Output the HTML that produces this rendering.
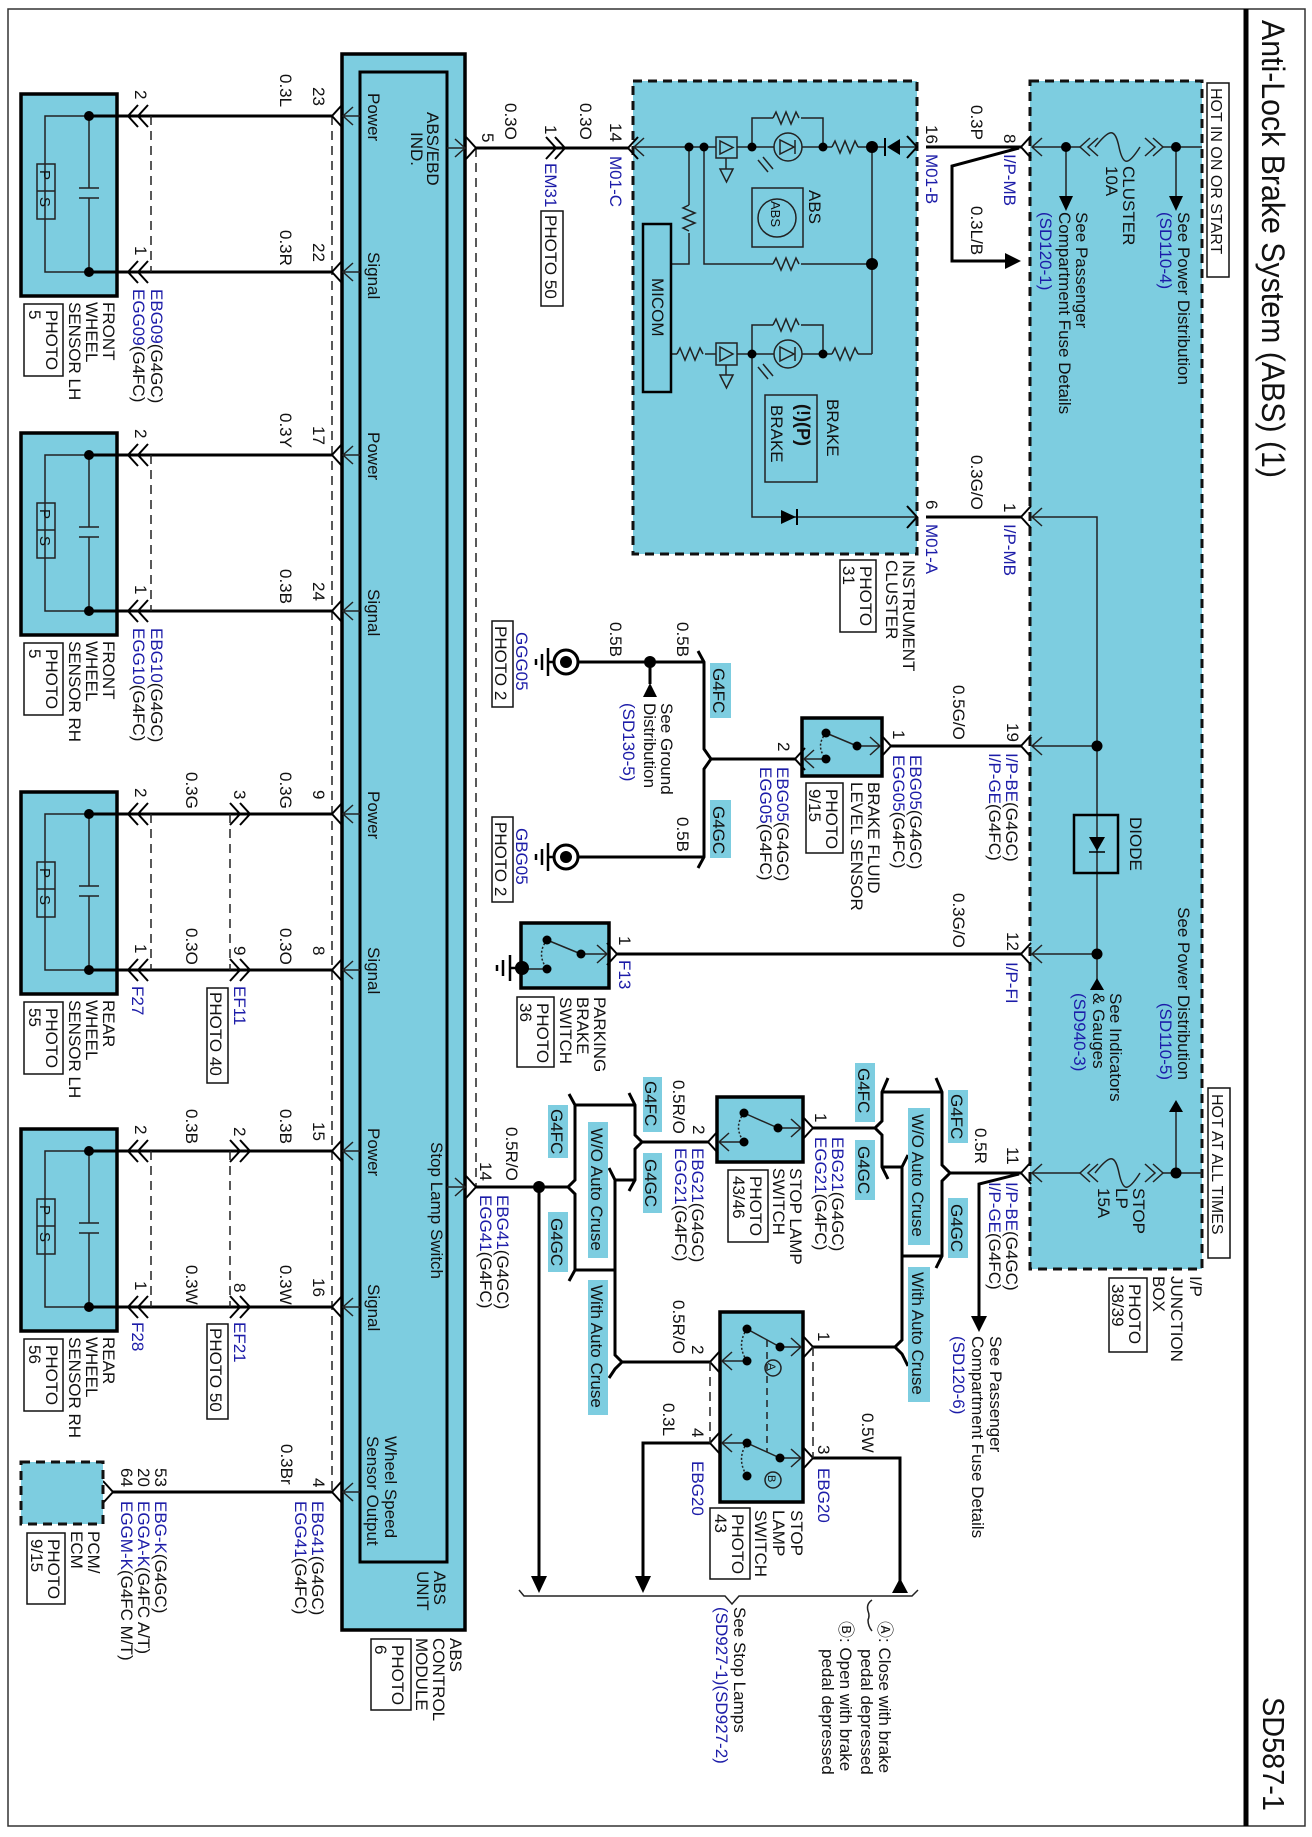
<!DOCTYPE html>
<html><head><meta charset="utf-8"><style>
html,body{margin:0;padding:0;background:#fff}
svg{display:block}
text{font-family:"Liberation Sans",Arial,sans-serif;font-size:17px;fill:#111}
.b{fill:#1c1ca8}
.w{stroke:#000;stroke-width:3;fill:none}
.t{stroke:#222;stroke-width:1.5;fill:none}
.c{stroke:#000;stroke-width:2;fill:none}
.box{fill:#7dcde0;stroke:#000;stroke-width:3.5}
.lb{fill:#7dcde0}
.dash{stroke:#222;stroke-width:1.5;stroke-dasharray:9,6;fill:none}
.dbox{fill:#7dcde0;stroke:#111;stroke-width:3;stroke-dasharray:9,6}
.pb{fill:#fff;stroke:#111;stroke-width:1.5}
</style></head><body>
<svg width="1312" height="1837" viewBox="0 0 1312 1837" xmlns="http://www.w3.org/2000/svg">
<defs>
<polyline id="cl" points="10,-11 0,0 10,11" class="c"/>
<polyline id="cr" points="-10,-11 0,0 -10,11" class="c"/>
<polyline id="al" points="10,-9 0,0 10,9" class="t"/>
<polyline id="ar" points="-10,-9 0,0 -10,9" class="t"/>
<path id="res" d="M0,0 l3,-6 l5,12 l5,-12 l5,12 l5,-12 l3,6" class="t"/>
<path id="resv" d="M0,0 l-6,3 l12,5 l-12,5 l12,5 l-12,5 l6,3" class="t"/>
</defs>
<rect x="8" y="9" width="1297" height="1817" fill="none" stroke="#333" stroke-width="1.5"/>
<line x1="1246" y1="9" x2="1246" y2="1826" stroke="#000" stroke-width="5"/>
<text transform="translate(1262,20) rotate(90)" style="font-size:32px" textLength="458" lengthAdjust="spacingAndGlyphs">Anti-Lock Brake System (ABS) (1)</text>
<text transform="translate(1263,1697) rotate(90)" style="font-size:31px" textLength="114" lengthAdjust="spacingAndGlyphs">SD587-1</text>

<!-- ABS module -->
<rect x="342" y="54" width="123" height="1576" class="box"/>
<rect x="360" y="72" width="87" height="1490" fill="none" stroke="#000" stroke-width="3"/>
<text transform="translate(427,112) rotate(90)">ABS/EBD</text>
<text transform="translate(411,132) rotate(90)">IND.</text>
<text transform="translate(368,93) rotate(90)">Power</text>
<text transform="translate(368,252) rotate(90)">Signal</text>
<text transform="translate(368,432) rotate(90)">Power</text>
<text transform="translate(368,589) rotate(90)">Signal</text>
<text transform="translate(368,791) rotate(90)">Power</text>
<text transform="translate(368,947) rotate(90)">Signal</text>
<text transform="translate(368,1128) rotate(90)">Power</text>
<text transform="translate(368,1284) rotate(90)">Signal</text>
<text transform="translate(431,1142) rotate(90)">Stop Lamp Switch</text>
<text transform="translate(385,1436) rotate(90)">Wheel Speed</text>
<text transform="translate(367,1436) rotate(90)">Sensor Output</text>
<text transform="translate(434,1571) rotate(90)">ABS</text>
<text transform="translate(417,1571) rotate(90)">UNIT</text>
<text transform="translate(450,1638) rotate(90)">ABS</text>
<text transform="translate(433,1638) rotate(90)">CONTROL</text>
<text transform="translate(416,1638) rotate(90)">MODULE</text>
<rect x="371" y="1639" width="40" height="71" class="pb"/>
<text transform="translate(392,1645) rotate(90)">PHOTO</text>
<text transform="translate(375,1645) rotate(90)">6</text>

<!-- dashed connector lines -->
<line x1="332" y1="116" x2="332" y2="1492" class="dash"/>
<line x1="476" y1="148" x2="476" y2="1187" class="dash"/>

<!-- ABS left connectors -->
<g>
<use href="#cl" x="332" y="116"/><use href="#al" x="343" y="116"/><line x1="343" y1="116" x2="360" y2="116" class="t"/>
<use href="#cl" x="332" y="272"/><use href="#al" x="343" y="272"/><line x1="343" y1="272" x2="360" y2="272" class="t"/>
<use href="#cl" x="332" y="455"/><use href="#al" x="343" y="455"/><line x1="343" y1="455" x2="360" y2="455" class="t"/>
<use href="#cl" x="332" y="611"/><use href="#al" x="343" y="611"/><line x1="343" y1="611" x2="360" y2="611" class="t"/>
<use href="#cl" x="332" y="814"/><use href="#al" x="343" y="814"/><line x1="343" y1="814" x2="360" y2="814" class="t"/>
<use href="#cl" x="332" y="970"/><use href="#al" x="343" y="970"/><line x1="343" y1="970" x2="360" y2="970" class="t"/>
<use href="#cl" x="332" y="1151"/><use href="#al" x="343" y="1151"/><line x1="343" y1="1151" x2="360" y2="1151" class="t"/>
<use href="#cl" x="332" y="1307"/><use href="#al" x="343" y="1307"/><line x1="343" y1="1307" x2="360" y2="1307" class="t"/>
<use href="#cl" x="332" y="1492"/><use href="#al" x="343" y="1492"/><line x1="343" y1="1492" x2="360" y2="1492" class="t"/>
<!-- right side -->
<line x1="447" y1="148" x2="465" y2="148" class="t"/><use href="#ar" x="465" y="148"/><use href="#cr" x="476" y="148"/>
<line x1="447" y1="1187" x2="465" y2="1187" class="t"/><use href="#ar" x="465" y="1187"/><use href="#cr" x="476" y="1187"/>
</g>

<!-- Sensors -->
<g id="sensors">
<!-- FLH -->
<rect x="21" y="94" width="96" height="202" class="box"/>
<polyline points="89,116 45,116 45,272 89,272" class="t"/>
<line x1="89" y1="116" x2="89" y2="188" class="t"/><line x1="89" y1="198" x2="89" y2="272" class="t"/>
<line x1="79" y1="188" x2="99" y2="188" class="t"/><line x1="79" y1="198" x2="99" y2="198" class="t"/>
<rect x="37" y="164" width="18" height="55" class="t" fill="#7dcde0"/><line x1="37" y1="191" x2="55" y2="191" class="t"/>
<text transform="translate(40,170) rotate(90)" style="font-size:15px">P</text><text transform="translate(40,197) rotate(90)" style="font-size:15px">S</text>
<circle cx="89" cy="116" r="5"/><circle cx="89" cy="272" r="5"/>
<!-- FRH -->
<rect x="21" y="433" width="96" height="202" class="box"/>
<polyline points="89,455 45,455 45,611 89,611" class="t"/>
<line x1="89" y1="455" x2="89" y2="527" class="t"/><line x1="89" y1="537" x2="89" y2="611" class="t"/>
<line x1="79" y1="527" x2="99" y2="527" class="t"/><line x1="79" y1="537" x2="99" y2="537" class="t"/>
<rect x="37" y="503" width="18" height="55" class="t" fill="#7dcde0"/><line x1="37" y1="530" x2="55" y2="530" class="t"/>
<text transform="translate(40,509) rotate(90)" style="font-size:15px">P</text><text transform="translate(40,536) rotate(90)" style="font-size:15px">S</text>
<circle cx="89" cy="455" r="5"/><circle cx="89" cy="611" r="5"/>
<!-- RLH -->
<rect x="21" y="792" width="96" height="202" class="box"/>
<polyline points="89,814 45,814 45,970 89,970" class="t"/>
<line x1="89" y1="814" x2="89" y2="886" class="t"/><line x1="89" y1="896" x2="89" y2="970" class="t"/>
<line x1="79" y1="886" x2="99" y2="886" class="t"/><line x1="79" y1="896" x2="99" y2="896" class="t"/>
<rect x="37" y="862" width="18" height="55" class="t" fill="#7dcde0"/><line x1="37" y1="889" x2="55" y2="889" class="t"/>
<text transform="translate(40,868) rotate(90)" style="font-size:15px">P</text><text transform="translate(40,895) rotate(90)" style="font-size:15px">S</text>
<circle cx="89" cy="814" r="5"/><circle cx="89" cy="970" r="5"/>
<!-- RRH -->
<rect x="21" y="1129" width="96" height="202" class="box"/>
<polyline points="89,1151 45,1151 45,1307 89,1307" class="t"/>
<line x1="89" y1="1151" x2="89" y2="1223" class="t"/><line x1="89" y1="1233" x2="89" y2="1307" class="t"/>
<line x1="79" y1="1223" x2="99" y2="1223" class="t"/><line x1="79" y1="1233" x2="99" y2="1233" class="t"/>
<rect x="37" y="1199" width="18" height="55" class="t" fill="#7dcde0"/><line x1="37" y1="1226" x2="55" y2="1226" class="t"/>
<text transform="translate(40,1205) rotate(90)" style="font-size:15px">P</text><text transform="translate(40,1232) rotate(90)" style="font-size:15px">S</text>
<circle cx="89" cy="1151" r="5"/><circle cx="89" cy="1307" r="5"/>
</g>

<!-- sensor wires -->
<g class="w">
<line x1="89" y1="116" x2="332" y2="116"/><line x1="89" y1="272" x2="332" y2="272"/>
<line x1="89" y1="455" x2="332" y2="455"/><line x1="89" y1="611" x2="332" y2="611"/>
<line x1="89" y1="814" x2="332" y2="814"/><line x1="89" y1="970" x2="332" y2="970"/>
<line x1="89" y1="1151" x2="332" y2="1151"/><line x1="89" y1="1307" x2="332" y2="1307"/>
<line x1="113" y1="1492" x2="332" y2="1492"/>
</g>
<g>
<use href="#cl" x="128" y="116"/><use href="#cl" x="138" y="116"/><use href="#cl" x="128" y="272"/><use href="#cl" x="138" y="272"/>
<use href="#cl" x="128" y="455"/><use href="#cl" x="138" y="455"/><use href="#cl" x="128" y="611"/><use href="#cl" x="138" y="611"/>
<use href="#cl" x="128" y="814"/><use href="#cl" x="138" y="814"/><use href="#cl" x="128" y="970"/><use href="#cl" x="138" y="970"/>
<use href="#cl" x="128" y="1151"/><use href="#cl" x="138" y="1151"/><use href="#cl" x="128" y="1307"/><use href="#cl" x="138" y="1307"/>
<use href="#cr" x="240" y="814"/><use href="#cr" x="250" y="814"/><use href="#cr" x="240" y="970"/><use href="#cr" x="250" y="970"/>
<use href="#cr" x="240" y="1151"/><use href="#cr" x="250" y="1151"/><use href="#cr" x="240" y="1307"/><use href="#cr" x="250" y="1307"/>
<use href="#cr" x="113" y="1492"/>
</g>
<g class="dash">
<line x1="151" y1="116" x2="151" y2="272"/><line x1="151" y1="455" x2="151" y2="611"/>
<line x1="151" y1="814" x2="151" y2="970"/><line x1="151" y1="1151" x2="151" y2="1307"/>
<line x1="230" y1="814" x2="230" y2="970"/><line x1="230" y1="1151" x2="230" y2="1307"/>
</g>
<!-- sensor labels -->
<text transform="translate(135,90) rotate(90)">2</text><text transform="translate(135,246) rotate(90)">1</text>
<text transform="translate(135,429) rotate(90)">2</text><text transform="translate(135,585) rotate(90)">1</text>
<text transform="translate(135,788) rotate(90)">2</text><text transform="translate(135,944) rotate(90)">1</text>
<text transform="translate(135,1125) rotate(90)">2</text><text transform="translate(135,1281) rotate(90)">1</text>
<text transform="translate(313,87) rotate(90)">23</text><text transform="translate(313,243) rotate(90)">22</text>
<text transform="translate(313,426) rotate(90)">17</text><text transform="translate(313,582) rotate(90)">24</text>
<text transform="translate(313,790) rotate(90)">9</text><text transform="translate(313,946) rotate(90)">8</text>
<text transform="translate(313,1122) rotate(90)">15</text><text transform="translate(313,1278) rotate(90)">16</text>
<text transform="translate(313,1478) rotate(90)">4</text>
<text transform="translate(280,74) rotate(90)">0.3L</text><text transform="translate(280,230) rotate(90)">0.3R</text>
<text transform="translate(280,413) rotate(90)">0.3Y</text><text transform="translate(280,569) rotate(90)">0.3B</text>
<text transform="translate(280,772) rotate(90)">0.3G</text><text transform="translate(280,928) rotate(90)">0.3O</text>
<text transform="translate(280,1109) rotate(90)">0.3B</text><text transform="translate(280,1265) rotate(90)">0.3W</text>
<text transform="translate(281,1444) rotate(90)">0.3Br</text>
<text transform="translate(186,772) rotate(90)">0.3G</text><text transform="translate(186,928) rotate(90)">0.3O</text>
<text transform="translate(186,1109) rotate(90)">0.3B</text><text transform="translate(186,1265) rotate(90)">0.3W</text>
<text transform="translate(234,790) rotate(90)">3</text><text transform="translate(234,946) rotate(90)">9</text>
<text transform="translate(234,1127) rotate(90)">2</text><text transform="translate(234,1283) rotate(90)">8</text>

<text transform="translate(151,289) rotate(90)"><tspan class="b">EBG09</tspan>(G4GC)</text>
<text transform="translate(133,289) rotate(90)"><tspan class="b">EGG09</tspan>(G4FC)</text>
<text transform="translate(151,628) rotate(90)"><tspan class="b">EBG10</tspan>(G4GC)</text>
<text transform="translate(133,628) rotate(90)"><tspan class="b">EGG10</tspan>(G4FC)</text>
<text class="b" transform="translate(132,986) rotate(90)">F27</text>
<text class="b" transform="translate(234,986) rotate(90)">EF11</text>
<rect x="207" y="988" width="21" height="95" class="pb"/><text transform="translate(210,992) rotate(90)">PHOTO 40</text>
<text class="b" transform="translate(132,1322) rotate(90)">F28</text>
<text class="b" transform="translate(234,1322) rotate(90)">EF21</text>
<rect x="207" y="1324" width="21" height="95" class="pb"/><text transform="translate(210,1328) rotate(90)">PHOTO 50</text>

<text transform="translate(103,302) rotate(90)">FRONT</text><text transform="translate(86,302) rotate(90)">WHEEL</text><text transform="translate(69,302) rotate(90)">SENSOR LH</text>
<rect x="24" y="304" width="39" height="72" class="pb"/><text transform="translate(46,310) rotate(90)">PHOTO</text><text transform="translate(29,310) rotate(90)">5</text>
<text transform="translate(103,641) rotate(90)">FRONT</text><text transform="translate(86,641) rotate(90)">WHEEL</text><text transform="translate(69,641) rotate(90)">SENSOR RH</text>
<rect x="24" y="643" width="39" height="72" class="pb"/><text transform="translate(46,649) rotate(90)">PHOTO</text><text transform="translate(29,649) rotate(90)">5</text>
<text transform="translate(103,1000) rotate(90)">REAR</text><text transform="translate(86,1000) rotate(90)">WHEEL</text><text transform="translate(69,1000) rotate(90)">SENSOR LH</text>
<rect x="24" y="1002" width="39" height="72" class="pb"/><text transform="translate(46,1008) rotate(90)">PHOTO</text><text transform="translate(29,1008) rotate(90)">55</text>
<text transform="translate(103,1337) rotate(90)">REAR</text><text transform="translate(86,1337) rotate(90)">WHEEL</text><text transform="translate(69,1337) rotate(90)">SENSOR RH</text>
<rect x="24" y="1339" width="39" height="72" class="pb"/><text transform="translate(46,1345) rotate(90)">PHOTO</text><text transform="translate(29,1345) rotate(90)">56</text>

<!-- PCM -->
<rect x="21" y="1462" width="82" height="62" class="dbox"/>
<text transform="translate(155,1468) rotate(90)">53</text><text transform="translate(138,1468) rotate(90)">20</text><text transform="translate(121,1468) rotate(90)">64</text>
<text transform="translate(155,1501) rotate(90)"><tspan class="b">EBG-K</tspan>(G4GC)</text>
<text transform="translate(138,1501) rotate(90)"><tspan class="b">EGGA-K</tspan>(G4FC A/T)</text>
<text transform="translate(121,1501) rotate(90)"><tspan class="b">EGGM-K</tspan>(G4FC M/T)</text>
<text transform="translate(88,1531) rotate(90)">PCM/</text><text transform="translate(71,1531) rotate(90)">ECM</text>
<rect x="27" y="1533" width="38" height="71" class="pb"/><text transform="translate(48,1539) rotate(90)">PHOTO</text><text transform="translate(31,1539) rotate(90)">9/15</text>
<text transform="translate(312,1501) rotate(90)"><tspan class="b">EBG41</tspan>(G4GC)</text>
<text transform="translate(295,1501) rotate(90)"><tspan class="b">EGG41</tspan>(G4FC)</text>

<!-- connector 5 to cluster -->
<line x1="476" y1="148" x2="628" y2="148" class="w"/>
<use href="#cr" x="556" y="148"/><use href="#cr" x="565" y="148"/>
<text transform="translate(482,133) rotate(90)">5</text>
<text transform="translate(505,103) rotate(90)">0.3O</text>
<text transform="translate(545,125) rotate(90)">1</text>
<text class="b" transform="translate(545,163) rotate(90)">EM31</text>
<rect x="541" y="211" width="22" height="95" class="pb"/><text transform="translate(545,215) rotate(90)">PHOTO 50</text>
<text transform="translate(580,103) rotate(90)">0.3O</text>
<text transform="translate(610,123) rotate(90)">14</text>
<text class="b" transform="translate(610,156) rotate(90)">M01-C</text>

<!-- Cluster -->
<rect x="633" y="81" width="284" height="473" class="dbox"/>
<use href="#cl" x="628" y="148"/>
<use href="#al" x="634" y="147"/>
<g class="t">
<line x1="634" y1="147" x2="716" y2="147"/>
<rect x="716" y="137" width="21" height="21" fill="none"/>
<polygon points="720,141 720,154 733,147.5"/>
<line x1="726" y1="158" x2="726" y2="169"/><polygon points="720,169 733,169 726.5,182"/>
<line x1="737" y1="147" x2="774" y2="147"/>
<circle cx="788" cy="147" r="14"/><polygon points="780,140 780,154 794,147"/><line x1="795" y1="140" x2="795" y2="154"/>
<line x1="802" y1="147" x2="832" y2="147"/>
<use href="#res" x="832" y="147"/><line x1="858" y1="147" x2="885" y2="147"/>
<line x1="900" y1="147" x2="917" y2="147"/>
<polyline points="752,147 752,118 773,118"/><use href="#res" x="773" y="118"/><polyline points="801,118 823,118 823,147"/>
<line x1="872" y1="147" x2="872" y2="354"/>
<polyline points="704,147 704,264 773,264"/><use href="#res" x="773" y="264"/><line x1="801" y1="264" x2="872" y2="264"/>
<line x1="689" y1="147" x2="689" y2="205"/><use href="#resv" x="689" y="205"/><polyline points="689,233 689,264 671,264"/>
<line x1="758" y1="160" x2="768" y2="172"/><line x1="763" y1="157" x2="773" y2="169"/>
<!-- lower -->
<line x1="671" y1="354" x2="677" y2="354"/><use href="#res" x="677" y="354"/><line x1="705" y1="354" x2="716" y2="354"/>
<rect x="716" y="343" width="21" height="22" fill="none"/>
<polygon points="720,347 720,361 733,354"/>
<line x1="726" y1="365" x2="726" y2="375"/><polygon points="720,375 733,375 726.5,388"/>
<line x1="737" y1="354" x2="774" y2="354"/>
<circle cx="788" cy="354" r="14"/><polygon points="780,347 780,361 794,354"/><line x1="795" y1="347" x2="795" y2="361"/>
<line x1="802" y1="354" x2="832" y2="354"/><use href="#res" x="832" y="354"/><line x1="858" y1="354" x2="872" y2="354"/>
<polyline points="752,354 752,325 773,325"/><use href="#res" x="773" y="325"/><polyline points="801,325 823,325 823,354"/>
<line x1="758" y1="367" x2="768" y2="379"/><line x1="763" y1="364" x2="773" y2="376"/>
<polyline points="752,354 752,517 917,517"/>
<rect x="752" y="188" width="51" height="59" fill="none"/><circle cx="777" cy="218" r="19"/>
<rect x="765" y="395" width="52" height="87" fill="none"/>
</g>
<polygon points="900,139 900,155 887,147"/><line x1="885" y1="138" x2="885" y2="156" stroke="#000" stroke-width="2"/>
<polygon points="781,510 781,524 796,517"/><line x1="797" y1="509" x2="797" y2="525" stroke="#000" stroke-width="2"/>
<circle cx="689" cy="147" r="4.5"/><circle cx="704" cy="147" r="4.5"/><circle cx="752" cy="147" r="4.5"/><circle cx="823" cy="147" r="4.5"/><circle cx="872" cy="147" r="6"/><circle cx="872" cy="264" r="6"/>
<circle cx="752" cy="354" r="4.5"/><circle cx="823" cy="354" r="4.5"/>
<rect x="643" y="224" width="28" height="168" fill="#7dcde0" stroke="#000" stroke-width="2.5"/>
<text transform="translate(652,278) rotate(90)">MICOM</text>
<text transform="translate(771,201) rotate(90)" style="font-size:13px">ABS</text>
<text transform="translate(809,190) rotate(90)">ABS</text>
<text transform="translate(797,404) rotate(90)" style="font-size:18px;font-weight:bold">(!)(P)</text>
<text transform="translate(771,405) rotate(90)">BRAKE</text>
<text transform="translate(827,399) rotate(90)">BRAKE</text>
<use href="#cr" x="917" y="147"/><use href="#cr" x="917" y="517"/>
<text transform="translate(903,560) rotate(90)">INSTRUMENT</text>
<text transform="translate(886,560) rotate(90)">CLUSTER</text>
<rect x="840" y="560" width="36" height="72" class="pb"/><text transform="translate(860,566) rotate(90)">PHOTO</text><text transform="translate(843,566) rotate(90)">31</text>

<!-- cluster to JB -->
<line x1="926" y1="147" x2="1021" y2="147" class="w"/>
<line x1="926" y1="517" x2="1021" y2="517" class="w"/>
<polyline points="1019,148 952,166 952,261 1006,261" class="w"/>
<polygon points="1005,253 1005,269 1021,261"/>
<text transform="translate(926,125) rotate(90)">16</text><text class="b" transform="translate(926,154) rotate(90)">M01-B</text>
<text transform="translate(971,105) rotate(90)">0.3P</text><text transform="translate(971,206) rotate(90)">0.3L/B</text>
<text transform="translate(1004,134) rotate(90)">8</text><text class="b" transform="translate(1004,154) rotate(90)">I/P-MB</text>
<text transform="translate(926,500) rotate(90)">6</text><text class="b" transform="translate(926,524) rotate(90)">M01-A</text>
<text transform="translate(971,455) rotate(90)">0.3G/O</text>
<text transform="translate(1004,503) rotate(90)">1</text><text class="b" transform="translate(1004,524) rotate(90)">I/P-MB</text>

<!-- Junction box -->
<rect x="1030" y="81" width="172" height="1188" class="dbox"/>
<use href="#cl" x="1021" y="147"/><use href="#cl" x="1021" y="517"/><use href="#cl" x="1021" y="746"/><use href="#cl" x="1021" y="954"/><use href="#cl" x="1021" y="1173"/>
<g class="t">
<use href="#al" x="1032" y="147"/><use href="#al" x="1032" y="517"/><use href="#al" x="1032" y="746"/><use href="#al" x="1032" y="954"/><use href="#al" x="1032" y="1173"/>
<line x1="1032" y1="147" x2="1080" y2="147"/><line x1="1163" y1="147" x2="1202" y2="147"/>
<use href="#al" x="1080" y="147"/><use href="#al" x="1088" y="147"/>
<path d="M1095,147 C1110,128 1115,128 1119,147 C1123,166 1128,166 1140,147"/>
<use href="#ar" x="1155" y="147"/><use href="#ar" x="1163" y="147"/>
<line x1="1066" y1="147" x2="1066" y2="196"/><line x1="1176" y1="147" x2="1176" y2="196"/>
<polyline points="1032,517 1097,517 1097,954"/><line x1="1032" y1="746" x2="1097" y2="746"/><line x1="1032" y1="954" x2="1097" y2="954"/>
<line x1="1097" y1="954" x2="1097" y2="980"/>
<rect x="1074" y="815" width="44" height="58" stroke="#000" stroke-width="2.5" fill="none"/>
<line x1="1032" y1="1173" x2="1080" y2="1173"/><line x1="1163" y1="1173" x2="1202" y2="1173"/>
<use href="#al" x="1080" y="1173"/><use href="#al" x="1088" y="1173"/>
<path d="M1095,1173 C1110,1154 1115,1154 1119,1173 C1123,1192 1128,1192 1140,1173"/>
<use href="#ar" x="1155" y="1173"/><use href="#ar" x="1163" y="1173"/>
<line x1="1176" y1="1173" x2="1176" y2="1112"/>
</g>
<polygon points="1059,196 1073,196 1066,211"/><polygon points="1169,196 1183,196 1176,211"/>
<polygon points="1089,837 1105,837 1097,851"/><line x1="1089" y1="852" x2="1105" y2="852" stroke="#000" stroke-width="1.5"/>
<polygon points="1090,990 1104,990 1097,978"/>
<polygon points="1169,1112 1183,1112 1176,1100"/>
<circle cx="1066" cy="147" r="5"/><circle cx="1176" cy="147" r="5"/><circle cx="1097" cy="746" r="5.5"/><circle cx="1097" cy="954" r="5.5"/><circle cx="1176" cy="1173" r="5.5"/>
<rect x="1207" y="83" width="22" height="194" fill="#fff" stroke="#111" stroke-width="1.5"/>
<text transform="translate(1211,88) rotate(90)" style="font-size:16px">HOT IN ON OR START</text>
<rect x="1208" y="1088" width="22" height="170" fill="#fff" stroke="#111" stroke-width="1.5"/>
<text transform="translate(1212,1094) rotate(90)" style="font-size:16px">HOT AT ALL TIMES</text>
<text transform="translate(1123,166) rotate(90)">CLUSTER</text><text transform="translate(1106,166) rotate(90)">10A</text>
<text transform="translate(1178,212) rotate(90)">See Power Distribution</text><text class="b" transform="translate(1160,212) rotate(90)">(SD110-4)</text>
<text transform="translate(1076,212) rotate(90)">See Passenger</text><text transform="translate(1059,212) rotate(90)">Compartment Fuse Details</text><text class="b" transform="translate(1040,212) rotate(90)">(SD120-1)</text>
<text transform="translate(1130,817) rotate(90)">DIODE</text>
<text transform="translate(1110,993) rotate(90)">See Indicators</text><text transform="translate(1093,993) rotate(90)">&amp; Gauges</text><text class="b" transform="translate(1074,993) rotate(90)">(SD940-3)</text>
<text transform="translate(1178,1080) rotate(90)" text-anchor="end">See Power Distribution</text><text class="b" transform="translate(1160,1080) rotate(90)" text-anchor="end">(SD110-5)</text>
<text transform="translate(1133,1188) rotate(90)">STOP</text><text transform="translate(1116,1188) rotate(90)">LP</text><text transform="translate(1098,1188) rotate(90)">15A</text>
<text transform="translate(1190,1276) rotate(90)">I/P</text><text transform="translate(1171,1276) rotate(90)">JUNCTION</text><text transform="translate(1153,1276) rotate(90)">BOX</text>
<rect x="1109" y="1278" width="38" height="74" class="pb"/><text transform="translate(1129,1284) rotate(90)">PHOTO</text><text transform="translate(1112,1284) rotate(90)">38/39</text>

<!-- row 19 brake fluid -->
<line x1="891" y1="746" x2="1021" y2="746" class="w"/>
<rect x="802" y="718" width="80" height="58" class="box"/>
<use href="#cr" x="891" y="746"/>
<g class="t"><line x1="857" y1="746" x2="880" y2="746"/><use href="#ar" x="880" y="746"/>
<line x1="826" y1="733" x2="857" y2="746"/><path d="M826,733 Q815,746 826,759" stroke-dasharray="2,2"/>
<line x1="826" y1="759" x2="804" y2="759"/><use href="#al" x="804" y="759"/></g>
<circle cx="826" cy="733" r="4.5"/><circle cx="857" cy="746" r="4.5"/><circle cx="826" cy="759" r="4.5"/>
<use href="#cl" x="795" y="759"/>
<text transform="translate(1007,723) rotate(90)">19</text>
<text transform="translate(1006,753) rotate(90)"><tspan class="b">I/P-BE</tspan>(G4GC)</text>
<text transform="translate(989,753) rotate(90)"><tspan class="b">I/P-GE</tspan>(G4FC)</text>
<text transform="translate(953,685) rotate(90)">0.5G/O</text>
<text transform="translate(893,730) rotate(90)">1</text>
<text transform="translate(910,755) rotate(90)"><tspan class="b">EBG05</tspan>(G4GC)</text>
<text transform="translate(893,755) rotate(90)"><tspan class="b">EGG05</tspan>(G4FC)</text>
<text transform="translate(778,742) rotate(90)">2</text>
<text transform="translate(777,767) rotate(90)"><tspan class="b">EBG05</tspan>(G4GC)</text>
<text transform="translate(760,767) rotate(90)"><tspan class="b">EGG05</tspan>(G4FC)</text>
<text transform="translate(868,782) rotate(90)">BRAKE FLUID</text><text transform="translate(851,782) rotate(90)">LEVEL SENSOR</text>
<rect x="806" y="783" width="37" height="70" class="pb"/><text transform="translate(826,789) rotate(90)">PHOTO</text><text transform="translate(809,789) rotate(90)">9/15</text>

<!-- grounds -->
<line x1="711" y1="759" x2="795" y2="759" class="w"/>
<polyline points="698,651 704,662 704,749 711,759 704,769 704,857 698,868" class="w"/>
<line x1="578" y1="662" x2="704" y2="662" class="w"/><line x1="578" y1="857" x2="704" y2="857" class="w"/>
<circle cx="566" cy="662" r="12" fill="#fff" stroke="#000" stroke-width="3"/><circle cx="566" cy="662" r="6"/>
<circle cx="566" cy="857" r="12" fill="#fff" stroke="#000" stroke-width="3"/><circle cx="566" cy="857" r="6"/>
<g stroke="#000" stroke-width="2.5"><line x1="554" y1="662" x2="548" y2="662"/><line x1="548" y1="648" x2="548" y2="676"/><line x1="542" y1="654" x2="542" y2="670"/><line x1="536" y1="659" x2="536" y2="665"/>
<line x1="554" y1="857" x2="548" y2="857"/><line x1="548" y1="843" x2="548" y2="871"/><line x1="542" y1="849" x2="542" y2="865"/><line x1="536" y1="854" x2="536" y2="860"/></g>
<line x1="650" y1="662" x2="650" y2="684" class="w"/><polygon points="643,697 657,697 650,683"/><circle cx="650" cy="662" r="6"/>
<rect x="710" y="663" width="21" height="55" class="lb"/><text transform="translate(713,668) rotate(90)">G4FC</text>
<rect x="710" y="800" width="21" height="58" class="lb"/><text transform="translate(713,806) rotate(90)">G4GC</text>
<text transform="translate(677,622) rotate(90)">0.5B</text><text transform="translate(610,622) rotate(90)">0.5B</text><text transform="translate(677,817) rotate(90)">0.5B</text>
<text class="b" transform="translate(516,632) rotate(90)">GGG05</text>
<rect x="492" y="621" width="21" height="86" class="pb"/><text transform="translate(495,626) rotate(90)">PHOTO 2</text>
<text class="b" transform="translate(516,828) rotate(90)">GBG05</text>
<rect x="492" y="817" width="21" height="85" class="pb"/><text transform="translate(495,822) rotate(90)">PHOTO 2</text>
<text transform="translate(661,703) rotate(90)">See Ground</text><text transform="translate(644,703) rotate(90)">Distribution</text><text class="b" transform="translate(623,703) rotate(90)">(SD130-5)</text>

<!-- parking brake -->
<line x1="617" y1="954" x2="1021" y2="954" class="w"/>
<rect x="521" y="923" width="88" height="65" class="box"/>
<use href="#cr" x="617" y="954"/>
<g class="t"><line x1="581" y1="954" x2="607" y2="954"/><use href="#ar" x="607" y="954"/>
<line x1="547" y1="940" x2="581" y2="954"/><path d="M547,940 Q536,954 547,969" stroke-dasharray="2,2"/><line x1="547" y1="969" x2="522" y2="969"/></g>
<circle cx="547" cy="940" r="4.5"/><circle cx="581" cy="954" r="4.5"/><circle cx="547" cy="969" r="4.5"/><circle cx="522" cy="968" r="7"/>
<g stroke="#000" stroke-width="2.5"><line x1="510" y1="955" x2="510" y2="981"/><line x1="503" y1="960" x2="503" y2="976"/><line x1="497" y1="965" x2="497" y2="971"/><line x1="510" y1="968" x2="522" y2="968"/></g>
<text transform="translate(1007,932) rotate(90)">12</text><text class="b" transform="translate(1006,962) rotate(90)">I/P-FI</text>
<text transform="translate(953,893) rotate(90)">0.3G/O</text>
<text transform="translate(619,936) rotate(90)">1</text><text class="b" transform="translate(619,960) rotate(90)">F13</text>
<text transform="translate(594,997) rotate(90)">PARKING</text><text transform="translate(577,997) rotate(90)">BRAKE</text><text transform="translate(560,997) rotate(90)">SWITCH</text>
<rect x="517" y="997" width="37" height="70" class="pb"/><text transform="translate(537,1003) rotate(90)">PHOTO</text><text transform="translate(520,1003) rotate(90)">36</text>

<!-- stop lamp circuits -->
<g class="w">
<line x1="476" y1="1187" x2="568" y2="1187"/>
<polyline points="569,1094 575,1105 575,1180 568,1187 575,1194 575,1270 569,1281"/>
<line x1="575" y1="1105" x2="635" y2="1105"/><line x1="575" y1="1270" x2="615" y2="1270"/>
<polyline points="629,1093 635,1105 635,1135 642,1142 635,1149 635,1180 629,1191"/>
<line x1="642" y1="1142" x2="708" y2="1142"/>
<line x1="615" y1="1180" x2="635" y2="1180"/>
<polyline points="609,1168 615,1180 615,1355 622,1362 615,1369 609,1378"/>
<line x1="622" y1="1362" x2="710" y2="1362"/>
<line x1="813" y1="1128" x2="875" y2="1128"/>
<polyline points="888,1078 882,1092 882,1121 875,1128 882,1135 882,1167 888,1179"/>
<line x1="882" y1="1092" x2="942" y2="1092"/><line x1="882" y1="1167" x2="902" y2="1167"/>
<polyline points="908,1155 902,1167 902,1340 895,1347 902,1354 908,1366"/>
<line x1="813" y1="1347" x2="895" y2="1347"/>
<line x1="902" y1="1256" x2="942" y2="1256"/>
<polyline points="936,1078 942,1092 942,1165 950,1173 942,1181 942,1256 936,1268"/>
<line x1="950" y1="1173" x2="1021" y2="1173"/>
<polyline points="1019,1174 979,1184 979,1316"/>
<line x1="539" y1="1187" x2="539" y2="1576"/>
<polyline points="710,1443 643,1443 643,1576"/>
<polyline points="813,1458 900,1458 900,1582"/>
</g>
<circle cx="539" cy="1187" r="6"/>
<polygon points="971,1316 987,1316 979,1332"/>
<polygon points="531,1576 547,1576 539,1593"/>
<polygon points="635,1576 651,1576 643,1593"/>
<polygon points="892,1593 908,1593 900,1578"/>
<polyline points="519,1590 524,1596 725,1596 732,1604 739,1596 912,1596 918,1590" class="t"/>
<path d="M872,1600 Q866,1604 868,1611 Q870,1616 868,1620 Q868,1626 872,1631" class="t"/>

<!-- upper stop switch -->
<rect x="717" y="1097" width="86" height="65" class="box"/>
<use href="#cl" x="708" y="1142"/><use href="#cr" x="813" y="1128"/>
<g class="t"><line x1="778" y1="1128" x2="801" y2="1128"/><use href="#ar" x="801" y="1128"/>
<line x1="744" y1="1113" x2="778" y2="1128"/><path d="M744,1113 Q733,1127 744,1142" stroke-dasharray="2,2"/>
<line x1="744" y1="1142" x2="719" y2="1142"/><use href="#al" x="719" y="1142"/></g>
<circle cx="744" cy="1113" r="4.5"/><circle cx="778" cy="1128" r="4.5"/><circle cx="744" cy="1142" r="4.5"/>
<text transform="translate(693,1125) rotate(90)">2</text>
<text transform="translate(673,1080) rotate(90)">0.5R/O</text>
<text transform="translate(692,1148) rotate(90)"><tspan class="b">EBG21</tspan>(G4GC)</text>
<text transform="translate(675,1148) rotate(90)"><tspan class="b">EGG21</tspan>(G4FC)</text>
<text transform="translate(815,1113) rotate(90)">1</text>
<text transform="translate(832,1137) rotate(90)"><tspan class="b">EBG21</tspan>(G4GC)</text>
<text transform="translate(815,1137) rotate(90)"><tspan class="b">EGG21</tspan>(G4FC)</text>
<text transform="translate(790,1168) rotate(90)">STOP LAMP</text><text transform="translate(773,1168) rotate(90)">SWITCH</text>
<rect x="728" y="1170" width="40" height="72" class="pb"/><text transform="translate(750,1176) rotate(90)">PHOTO</text><text transform="translate(733,1176) rotate(90)">43/46</text>

<!-- lower stop switch -->
<rect x="720" y="1312" width="83" height="190" class="box"/>
<use href="#cl" x="710" y="1362"/><use href="#cl" x="710" y="1443"/><use href="#cr" x="813" y="1347"/><use href="#cr" x="813" y="1458"/>
<line x1="710" y1="1362" x2="710" y2="1443" class="dash"/><line x1="813" y1="1347" x2="813" y2="1458" class="dash"/>
<g class="t"><line x1="780" y1="1347" x2="801" y2="1347"/><use href="#ar" x="801" y="1347"/>
<line x1="747" y1="1329" x2="780" y2="1347"/><path d="M747,1329 Q736,1345 747,1361" stroke-dasharray="2,2"/>
<line x1="747" y1="1361" x2="722" y2="1361"/><use href="#al" x="722" y="1361"/>
<line x1="780" y1="1458" x2="801" y2="1458"/><use href="#ar" x="801" y="1458"/>
<line x1="747" y1="1443" x2="780" y2="1458"/><path d="M747,1443 Q736,1459 747,1476" stroke-dasharray="2,2"/>
<line x1="747" y1="1443" x2="722" y2="1443"/><use href="#al" x="722" y="1443"/>
<line x1="767" y1="1340" x2="767" y2="1452" stroke-dasharray="7,5"/>
<circle cx="773" cy="1368" r="8"/><circle cx="773" cy="1480" r="8"/></g>
<circle cx="747" cy="1329" r="4.5"/><circle cx="780" cy="1347" r="4.5"/><circle cx="747" cy="1361" r="4.5"/>
<circle cx="747" cy="1443" r="4.5"/><circle cx="780" cy="1458" r="4.5"/><circle cx="747" cy="1476" r="4.5"/>
<text transform="translate(768,1363) rotate(90)" style="font-size:11px">A</text><text transform="translate(768,1475) rotate(90)" style="font-size:11px">B</text>
<text transform="translate(692,1345) rotate(90)">2</text><text transform="translate(673,1300) rotate(90)">0.5R/O</text>
<text transform="translate(818,1332) rotate(90)">1</text>
<text transform="translate(692,1428) rotate(90)">4</text><text transform="translate(663,1403) rotate(90)">0.3L</text>
<text class="b" transform="translate(692,1461) rotate(90)">EBG20</text>
<text transform="translate(818,1445) rotate(90)">3</text><text transform="translate(862,1413) rotate(90)">0.5W</text>
<text class="b" transform="translate(818,1468) rotate(90)">EBG20</text>
<text transform="translate(791,1510) rotate(90)">STOP</text><text transform="translate(773,1510) rotate(90)">LAMP</text><text transform="translate(755,1510) rotate(90)">SWITCH</text>
<rect x="710" y="1508" width="40" height="71" class="pb"/><text transform="translate(732,1514) rotate(90)">PHOTO</text><text transform="translate(715,1514) rotate(90)">43</text>

<!-- stop labels -->
<text transform="translate(480,1162) rotate(90)">14</text><text transform="translate(506,1127) rotate(90)">0.5R/O</text>
<text transform="translate(497,1195) rotate(90)"><tspan class="b">EBG41</tspan>(G4GC)</text>
<text transform="translate(480,1195) rotate(90)"><tspan class="b">EGG41</tspan>(G4FC)</text>
<text transform="translate(1007,1147) rotate(90)">11</text><text transform="translate(975,1128) rotate(90)">0.5R</text>
<text transform="translate(1006,1182) rotate(90)"><tspan class="b">I/P-BE</tspan>(G4GC)</text>
<text transform="translate(989,1182) rotate(90)"><tspan class="b">I/P-GE</tspan>(G4FC)</text>
<text transform="translate(990,1336) rotate(90)">See Passenger</text><text transform="translate(972,1336) rotate(90)">Compartment Fuse Details</text><text class="b" transform="translate(953,1336) rotate(90)">(SD120-6)</text>

<rect x="548" y="1105" width="20" height="53" class="lb"/><text transform="translate(551,1109) rotate(90)">G4FC</text>
<rect x="548" y="1212" width="20" height="60" class="lb"/><text transform="translate(551,1218) rotate(90)">G4GC</text>
<rect x="588" y="1122" width="20" height="136" class="lb"/><text transform="translate(591,1128) rotate(90)">W/O Auto Cruse</text>
<rect x="588" y="1280" width="20" height="135" class="lb"/><text transform="translate(591,1285) rotate(90)">With Auto Cruse</text>
<rect x="643" y="1077" width="19" height="55" class="lb"/><text transform="translate(645,1081) rotate(90)">G4FC</text>
<rect x="643" y="1153" width="19" height="60" class="lb"/><text transform="translate(645,1159) rotate(90)">G4GC</text>
<rect x="855" y="1063" width="20" height="59" class="lb"/><text transform="translate(858,1068) rotate(90)">G4FC</text>
<rect x="855" y="1140" width="20" height="60" class="lb"/><text transform="translate(858,1146) rotate(90)">G4GC</text>
<rect x="908" y="1108" width="22" height="137" class="lb"/><text transform="translate(912,1114) rotate(90)">W/O Auto Cruse</text>
<rect x="908" y="1267" width="22" height="135" class="lb"/><text transform="translate(912,1272) rotate(90)">With Auto Cruse</text>
<rect x="948" y="1090" width="20" height="53" class="lb"/><text transform="translate(951,1094) rotate(90)">G4FC</text>
<rect x="948" y="1198" width="20" height="60" class="lb"/><text transform="translate(951,1204) rotate(90)">G4GC</text>

<!-- legend -->
<text transform="translate(734,1607) rotate(90)">See Stop Lamps</text>
<text class="b" transform="translate(716,1607) rotate(90)">(SD927-1)(SD927-2)</text>
<text transform="translate(879,1621) rotate(90)">Ⓐ: Close with brake</text>
<text transform="translate(861,1649) rotate(90)">pedal depressed</text>
<text transform="translate(840,1621) rotate(90)">Ⓑ: Open with brake</text>
<text transform="translate(822,1649) rotate(90)">pedal depressed</text>
</svg>
</body></html>
